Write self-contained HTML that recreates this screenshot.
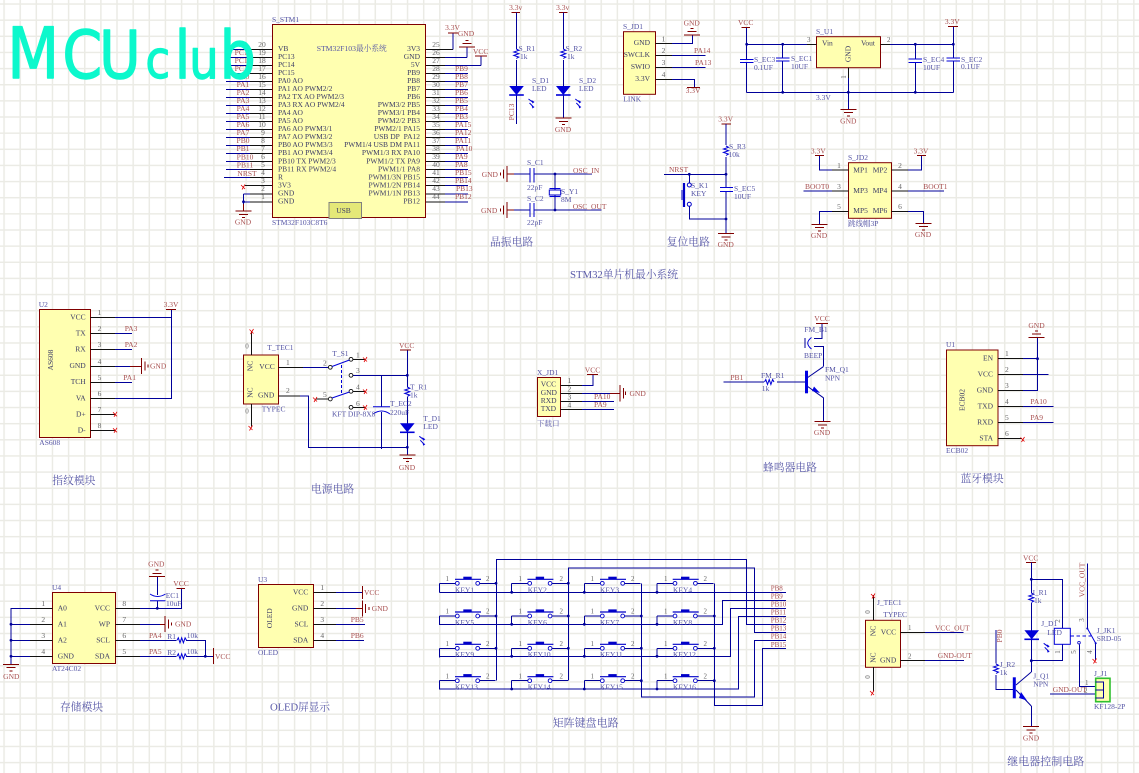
<!DOCTYPE html>
<html><head><meta charset="utf-8"><style>
html,body{margin:0;padding:0;background:#fff}
svg{display:block}
text{font-family:"Liberation Serif","Noto Serif CJK SC",serif;font-size:7.5px}
.w{stroke:#00009a;stroke-width:1;fill:none;shape-rendering:crispEdges}
.p{stroke:#111;stroke-width:1;fill:none;shape-rendering:crispEdges}
.r{stroke:#800000;stroke-width:1;fill:none;shape-rendering:crispEdges}
.b{stroke:#0000d8;stroke-width:1;fill:none;shape-rendering:crispEdges}
.z{stroke:#0000d8;stroke-width:1;fill:none}
.x{stroke:#e00000;stroke-width:.8;fill:none}
.box{fill:#ffffb0;stroke:#800000;stroke-width:1}
.d{fill:#5555a5}
.n{fill:#a85050}
.m{fill:#666;font-size:7px}
.o{fill:#3c3c66}
.t{fill:#5a5aa8;font-size:10.8px}
.c{text-anchor:middle}
.e{text-anchor:end}
</style></head><body>
<svg xmlns="http://www.w3.org/2000/svg" width="1139" height="773" viewBox="0 0 1139 773">
<defs>
<pattern id="grid" patternUnits="userSpaceOnUse" width="16.14" height="16.14" x="3.3" y="3.3">
<path d="M0 0H16.14M0 0V16.14" stroke="#ebebe5" stroke-width="3" fill="none"/>
</pattern>
<g id="gd"><path class="r" d="M-8 0H8M-4.5 3.3H4.5M-1.5 6.5H1.5"/></g>
<g id="gu"><path class="r" d="M-8 0H8M-4.5 -3.3H4.5M-1.5 -6.5H1.5"/></g>
<g id="gl"><path class="r" d="M0 -8V8M3.3 -4.5V4.5M6.5 -1.5V1.5" /></g>
<g id="gb"><path class="r" d="M0 -8V8M-3.3 -4.5V4.5M-6.5 -1.5V1.5" /></g>
<g id="rv"><path class="z" d="M0 0l2.5 1.3l-5 1.7l5 1.7l-5 1.7l5 1.7l-2.5 1.4"/></g>
<g id="rh"><path class="z" d="M0 0l1.3 -2.5l1.7 5l1.7 -5l1.7 5l1.7 -5l1.4 2.5"/></g>
<g id="xx"><path class="x" d="M-2 -2L2 2M-1 2.5L2 -2.5"/></g>
<g id="dt"><circle r="1.4" fill="#00009a"/></g>
<g id="led"><path d="M-7.3 0H7.3L0 9Z" fill="#0000d8"/><path d="M-7.3 9H7.3" stroke="#0000d8" stroke-width="1.6"/><path class="z" d="M12 13l4 3M13 17l3 3"/><path d="M15 14l3 2l-2 1.5ZM15 19l3 2l-2 1.5Z" fill="#0000d8"/></g>
<g id="k"><path class="w" d="M0 0V9M0 0H16.2M40.2 0H56.4"/><circle cx="18" cy="0" r="1.9" fill="#fff" stroke="#0000c8" stroke-width=".9"/><circle cx="38.4" cy="0" r="1.9" fill="#fff" stroke="#0000c8" stroke-width=".9"/><path d="M15.7 -4H41.7" stroke="#0000c8" stroke-width="1.2"/><rect x="24" y="-6.6" width="8.4" height="2.6" fill="#0000c8"/></g>
</defs>
<rect width="1139" height="773" fill="#fff"/>
<rect width="1139" height="773" fill="url(#grid)"/>

<!-- STM32 -->
<rect class="box" x="272.5" y="24.5" width="153" height="193"/>
<path class="w" d="M226 49.4H250M226 57.4H250M226 65.4H250M226 73.5H250M226 81.5H250M226 89.5H250M226 97.5H250M226 105.5H250M226 113.6H250M226 121.6H250M226 129.6H250M226 137.6H250M226 145.6H250M226 153.7H250M226 161.7H250M226 169.7H250M224 177.7H250"/>
<path class="p" d="M250 49.4H272M250 57.4H272M250 65.4H272M250 73.5H272M250 81.5H272M250 89.5H272M250 97.5H272M250 105.5H272M250 113.6H272M250 121.6H272M250 129.6H272M250 137.6H272M250 145.6H272M250 153.7H272M250 161.7H272M250 169.7H272M250 177.7H272M245 185.7H272M250 193.8H272M250 201.8H272"/>
<path class="w" d="M243.5 193.8H250M243.5 201.8H250M243.5 193.8V204"/><path class="r" d="M243.5 204V211"/>
<use href="#dt" x="243.5" y="201.8"/><use href="#gd" x="243.5" y="211"/><use href="#xx" x="243" y="187"/>
<path class="p" d="M426 49.4H453M426 57.4H445M426 65.4H445M426 73.5H445M426 81.5H445M426 89.5H445M426 97.5H445M426 105.5H445M426 113.6H445M426 121.6H445M426 129.6H445M426 137.6H445M426 145.6H445M426 153.7H445M426 161.7H445M426 169.7H445M426 177.7H445M426 185.7H445M426 193.8H445M426 201.8H445"/>
<path class="w" d="M445 57.4H467M445 65.4H481M445 73.5H468M445 81.5H468M445 89.5H468M445 97.5H468M445 105.5H468M445 113.6H468M445 121.6H468M445 129.6H468M445 137.6H468M445 145.6H468M445 153.7H468M445 161.7H468M445 169.7H468M445 177.7H468M445 185.7H468M445 193.8H468M445 201.8H468M453 33V49.4M467 47V57.4M481 56V65.4"/>
<path class="r" d="M448 33H458M475 56H487"/><use href="#gu" x="467" y="47"/>
<text class="n c" x="452.5" y="30">3.3V</text><text class="n c" x="466" y="36">GND</text><text class="n" x="473" y="54">VCC</text>
<rect x="329" y="202.5" width="32.5" height="16" fill="#e4e878" stroke="#808080"/>
<text class="o c" x="343.5" y="213">USB</text>
<text class="d" x="272" y="22">S_STM1</text><text class="d" x="272" y="225">STM32F103C8T6</text>
<text class="d" x="316.7" y="51" style="font-size:7.7px">STM32F103最小系统</text>
<g class="o">
<text x="278" y="51">VB</text><text x="278" y="59">PC13</text><text x="278" y="67">PC14</text><text x="278" y="75">PC15</text><text x="278" y="83">PA0 AO</text><text x="278" y="91">PA1 AO PWM2/2</text><text x="278" y="99">PA2 TX AO PWM2/3</text><text x="278" y="107">PA3 RX AO PWM2/4</text><text x="278" y="115">PA4 AO</text><text x="278" y="123">PA5 AO</text><text x="278" y="131">PA6 AO PWM3/1</text><text x="278" y="139">PA7 AO PWM3/2</text><text x="278" y="147">PB0 AO PWM3/3</text><text x="278" y="155">PB1 AO PWM3/4</text><text x="278" y="163.5">PB10 TX PWM2/3</text><text x="278" y="171.5">PB11 RX PWM2/4</text><text x="278" y="179.5">R</text><text x="278" y="187.5">3V3</text><text x="278" y="195.5">GND</text><text x="278" y="203.5">GND</text>
</g>
<g class="o e">
<text x="420" y="51">3V3</text><text x="420" y="59">GND</text><text x="420" y="67">5V</text><text x="420" y="75">PB9</text><text x="420" y="83">PB8</text><text x="420" y="91">PB7</text><text x="420" y="99">PB6</text><text x="420" y="107">PWM3/2 PB5</text><text x="420" y="115">PWM3/1 PB4</text><text x="420" y="123">PWM2/2 PB3</text><text x="420" y="131">PWM2/1 PA15</text><text x="420" y="139">USB DP&#160; PA12</text><text x="420" y="147">PWM1/4 USB DM PA11</text><text x="420" y="155">PWM1/3 RX PA10</text><text x="420" y="163.5">PWM1/2 TX PA9</text><text x="420" y="171.5">PWM1/1 PA8</text><text x="420" y="179.5">PWM1/3N PB15</text><text x="420" y="187.5">PWM1/2N PB14</text><text x="420" y="195.5">PWM1/1N PB13</text><text x="420" y="203.5">PB12</text>
</g>
<g class="m c">
<text x="262" y="47">20</text><text x="262" y="55">19</text><text x="262" y="63">18</text><text x="262" y="71">17</text><text x="262" y="79">16</text><text x="262" y="87">15</text><text x="262" y="95">14</text><text x="262" y="103">13</text><text x="262" y="111">12</text><text x="262" y="119">11</text><text x="262" y="127">10</text><text x="263" y="135">9</text><text x="263" y="143">8</text><text x="263" y="151">7</text><text x="263" y="159">6</text><text x="263" y="167">5</text><text x="263" y="175">4</text><text x="263" y="183">3</text><text x="263" y="191">2</text><text x="263" y="199">1</text>
<text x="436" y="47">25</text><text x="436" y="55">26</text><text x="436" y="63">27</text><text x="436" y="71">28</text><text x="436" y="79">29</text><text x="436" y="87">30</text><text x="436" y="95">31</text><text x="436" y="103">32</text><text x="436" y="111">33</text><text x="436" y="119">34</text><text x="436" y="127">35</text><text x="436" y="135">36</text><text x="436" y="143">37</text><text x="436" y="151">38</text><text x="436" y="159">39</text><text x="436" y="167">40</text><text x="436" y="175">41</text><text x="436" y="183">42</text><text x="436" y="191">43</text><text x="436" y="199">44</text>
</g>
<g class="n c">
<text x="242" y="47">VB</text><text x="243" y="55">PC13</text><text x="243" y="63">PC14</text><text x="243" y="71">PC15</text><text x="243" y="79">PA0</text><text x="243" y="87">PA1</text><text x="243" y="95">PA2</text><text x="243" y="103">PA3</text><text x="243" y="111">PA4</text><text x="243" y="119">PA5</text><text x="243" y="127">PA6</text><text x="243" y="135">PA7</text><text x="243" y="143">PB0</text><text x="243" y="151">PB1</text><text x="245" y="159.5">PB10</text><text x="245" y="167.5">PB11</text><text x="247" y="176">NRST</text><text x="243" y="224.5">GND</text>
</g>
<g class="n">
<text x="455" y="71">PB9</text><text x="455" y="79">PB8</text><text x="455" y="87">PB7</text><text x="455" y="95">PB6</text><text x="455" y="103">PB5</text><text x="455" y="111">PB4</text><text x="455" y="119">PB3</text><text x="455" y="127">PA15</text><text x="455" y="135">PA12</text><text x="455" y="143">PA11</text><text x="456" y="151">PA10</text><text x="455" y="159">PA9</text><text x="455" y="167">PA8</text><text x="455" y="175">PB15</text><text x="455" y="183">PB14</text><text x="456" y="191">PB13</text><text x="455" y="199">PB12</text>
</g>

<!-- LEDs -->
<path class="r" d="M511.7 12.7H520M559 12.7H567.5"/>
<path class="w" d="M516.3 12.7V49M516.3 60V86M516.3 95V124M563.3 12.7V49M563.3 60V86M563.3 95V118"/>
<use href="#rv" x="516.3" y="49"/><use href="#rv" x="563.3" y="49"/>
<use href="#led" x="516.5" y="86"/><use href="#led" x="563.3" y="86"/><use href="#gd" x="563.3" y="118"/>
<text class="n c" x="515.7" y="10">3.3v</text><text class="n c" x="562.7" y="10">3.3v</text><text class="n c" x="563" y="132">GND</text>
<text class="n c" transform="translate(514 112) rotate(-90)">PC13</text>
<text class="d" x="518.5" y="51">S_R1</text><text class="d" x="520" y="59">1k</text><text class="d" x="532" y="83">S_D1</text><text class="d" x="532" y="91">LED</text>
<text class="d" x="565.5" y="51">S_R2</text><text class="d" x="567" y="59">1k</text><text class="d" x="579" y="83">S_D2</text><text class="d" x="579" y="91">LED</text>

<!-- S_JD1 -->
<rect class="box" x="623.5" y="31.7" width="32" height="62.6"/>
<path class="p" d="M655.5 43.3H672M655.5 55.3H672M655.5 67.3H672M655.5 79.3H672"/>
<path class="w" d="M672 43.3H692.7V35M672 55.3H705.7M672 67.3H705.7M672 79.3H694.3V87.7"/>
<use href="#gu" x="692" y="35"/><path class="r" d="M687 87.7H700"/>
<g class="o e"><text x="650" y="45">GND</text><text x="650" y="57">SWCLK</text><text x="650" y="69">SWIO</text><text x="650" y="81">3.3V</text></g>
<g class="m c"><text x="663.5" y="41.5">1</text><text x="663.5" y="53">2</text><text x="663.5" y="65">3</text><text x="663.5" y="77">4</text></g>
<text class="n c" x="691.7" y="25.5">GND</text><text class="n" x="694" y="53">PA14</text><text class="n" x="695" y="65">PA13</text><text class="n c" x="693" y="93">3.3V</text>
<text class="d" x="623" y="29">S_JD1</text><text class="d" x="623.3" y="101.5">LINK</text>

<!-- S_U1 -->
<rect class="box" x="816.5" y="36.7" width="64" height="31"/>
<path class="w" d="M746.7 44.3H807M746.7 92.3H953.3M746.7 27.3V59.3M746.7 62.7V92.3M782.7 44.3V58M782.7 61V92.3M915.3 44.3V59M915.3 62.5V92.3M953.3 26.7V58M953.3 61V92.3M890 44.3H953.3M848.3 78V109.3"/>
<path class="p" d="M807 44.3H816.5M880.5 44.3H890M848.3 67.7V78"/>
<path class="b" d="M740 59.3H753.5M740 62.7H753.5M776 58H789.5M776 61H789.5M908.7 59H922M908.7 62.5H922M946.5 58H960M946.5 61H960"/>
<path class="r" d="M741.7 27.3H750M948 26.7H958"/>
<use href="#dt" x="746.7" y="44.3"/><use href="#dt" x="782.7" y="44.3"/><use href="#dt" x="915.3" y="44.3"/><use href="#dt" x="953.3" y="44.3"/><use href="#dt" x="782.7" y="92.3"/><use href="#dt" x="848.3" y="92.3"/><use href="#dt" x="915.3" y="92.3"/>
<use href="#gd" x="848.3" y="109.3"/>
<text class="o" x="822" y="45.5">Vin</text><text class="o e" x="875" y="45.5">Vout</text>
<text class="o c" transform="translate(850.5 54) rotate(-90)">GND</text>
<text class="m" x="807" y="42">3</text><text class="m" x="887" y="42">2</text><text class="m c" transform="translate(846 77) rotate(-90)">1</text>
<text class="n c" x="745.7" y="25">VCC</text><text class="n c" x="952.3" y="24">3.3V</text><text class="n c" x="848.3" y="123.5">GND</text>
<text class="d" x="816" y="34">S_U1</text><text class="d" x="816" y="100">3.3V</text>
<text class="d" x="754" y="62">S_EC3</text><text class="d" x="754" y="70">0.1UF</text><text class="d" x="791" y="61">S_EC1</text><text class="d" x="791" y="69">10UF</text><text class="d" x="923" y="62">S_EC4</text><text class="d" x="923" y="70">10UF</text><text class="d" x="961" y="62">S_EC2</text><text class="d" x="961" y="69">0.1UF</text>

<!-- Crystal -->
<path class="r" d="M507 174H514M507 210H514"/><use href="#gb" x="507" y="174"/><use href="#gb" x="507" y="210"/>
<path class="w" d="M514 174H530M534 174H592M514 210H530M534 210H601.7M555 174V190M555 195V210"/>
<path class="p" d="M530 168V182.7M534 168V182.7M530 203V217M534 203V217" style="stroke:#0000c8"/>
<rect x="549.3" y="190" width="11.4" height="5" fill="#fff" stroke="#0000c8" stroke-width="1"/><path class="b" d="M549.3 188.3H560.7M549.3 196.7H560.7"/>
<use href="#dt" x="555" y="174"/><use href="#dt" x="555" y="210"/>
<text class="n" x="481.7" y="177">GND</text><text class="n" x="481" y="213">GND</text><text class="n" x="573" y="173">OSC_IN</text><text class="n" x="572.7" y="209">OSC_OUT</text>
<text class="d" x="527" y="165">S_C1</text><text class="d" x="527" y="190">22pF</text><text class="d" x="527" y="201">S_C2</text><text class="d" x="527" y="225">22pF</text><text class="d" x="561" y="194">S_Y1</text><text class="d" x="561" y="202">8M</text>
<text class="t" x="490" y="245.5">晶振电路</text><text class="t" x="666.7" y="245.5">复位电路</text>
<text class="t" x="570" y="278" textLength="108">STM32单片机最小系统</text>

<!-- Reset -->
<path class="r" d="M721.7 124H731"/>
<path class="w" d="M726 124V145M726 157V187.7M726 191.7V233.7M664 174.3H726M689.3 174.3V183M689.3 206.5V219H726"/>
<use href="#rv" x="726" y="146"/>
<circle cx="689.3" cy="185" r="2" fill="#fff" stroke="#0000c8"/><circle cx="689.3" cy="204.3" r="2" fill="#fff" stroke="#0000c8"/>
<path d="M684 183V207" stroke="#0000c8" stroke-width="2.2"/><path d="M682 190V200" stroke="#0000c8" stroke-width="1"/>
<path class="b" d="M720 187.7H733M720 191.7H733"/>
<use href="#dt" x="726" y="174.3"/><use href="#dt" x="689.3" y="174.3"/><use href="#dt" x="726" y="219"/>
<use href="#gd" x="726" y="233.7"/>
<text class="n c" x="725.7" y="121.5">3.3V</text><text class="n" x="669" y="172">NRST</text><text class="n c" x="725.7" y="247">GND</text>
<text class="d" x="729" y="149">S_R3</text><text class="d" x="728.5" y="157">10k</text><text class="d" x="691" y="188">S_K1</text><text class="d" x="691" y="196">KEY</text><text class="d" x="734" y="191">S_EC5</text><text class="d" x="734" y="199">10UF</text>

<!-- S_JD2 -->
<rect class="box" x="848.5" y="162.7" width="43" height="55.6"/>
<path class="p" d="M832 170H848.5M832 191H848.5M832 211.3H848.5M891.5 170H908M891.5 191H908M891.5 211.3H908"/>
<path class="w" d="M832 170H819.3V155.7M908 170H921.7V155.7M832 191H803.3M908 191H944M832 211.3H819.3V224.3M908 211.3H923.3V223.3"/>
<path class="r" d="M815 155.7H824M917 155.7H926"/><use href="#gd" x="819.3" y="224.3"/><use href="#gd" x="923.3" y="223.3"/>
<g class="o"><text x="853.3" y="172.5">MP1</text><text x="872.7" y="172.5">MP2</text><text x="853.3" y="193">MP3</text><text x="872.7" y="193">MP4</text><text x="853.3" y="213">MP5</text><text x="872.7" y="213">MP6</text></g>
<g class="m c"><text x="839" y="168">1</text><text x="839" y="189">3</text><text x="839" y="209">5</text><text x="900" y="168">2</text><text x="900" y="189">4</text><text x="900" y="209">6</text></g>
<text class="n c" x="818.3" y="153.5">3.3V</text><text class="n c" x="921" y="153.5">3.3V</text><text class="n" x="805" y="189">BOOT0</text><text class="n" x="923.3" y="189">BOOT1</text><text class="n c" x="819" y="238">GND</text><text class="n c" x="923" y="237">GND</text>
<text class="d" x="848" y="160">S_JD2</text><text class="d" x="848" y="226">跳线帽3P</text>

<!-- U2 -->
<rect class="box" x="39.5" y="309.5" width="51" height="128"/>
<path class="p" d="M90.5 317.3H115M90.5 333.3H115M90.5 349.3H115M90.5 366.3H115M90.5 382.3H115M90.5 398.3H115M90.5 414.3H115M90.5 430.3H115"/>
<path class="w" d="M115 317.3H171.7M115 333.3H132M115 349.3H132M115 366.3H130M115 382.3H132M115 398.3H171.7V309.3"/>
<path class="r" d="M130 366.3H141.7M166 309.3H176"/><use href="#gl" x="141.7" y="366"/><use href="#xx" x="115" y="414.3"/><use href="#xx" x="115" y="430.3"/>
<g class="o e"><text x="85.7" y="319.5">VCC</text><text x="85.7" y="335.5">TX</text><text x="85.7" y="351.5">RX</text><text x="85.7" y="368">GND</text><text x="85.7" y="384">TCH</text><text x="85.7" y="400.5">VA</text><text x="85.7" y="416.5">D+</text><text x="85.7" y="432.5">D-</text></g>
<g class="m c"><text x="99.5" y="315">1</text><text x="99.5" y="331">2</text><text x="99.5" y="347">3</text><text x="99.5" y="364">4</text><text x="99.5" y="380">5</text><text x="99.5" y="396">6</text><text x="99.5" y="412">7</text><text x="99.5" y="428">8</text></g>
<text class="o c" transform="translate(53 360) rotate(-90)">AS608</text>
<text class="n c" x="171" y="307">3.3V</text><text class="n" x="124.7" y="331">PA3</text><text class="n" x="124.7" y="347">PA2</text><text class="n" x="123.3" y="380">PA1</text><text class="n" x="150" y="368.5">GND</text>
<text class="d" x="38.7" y="307">U2</text><text class="d" x="39.3" y="445">AS608</text>
<text class="t" x="52.3" y="484">指纹模块</text>

<!-- Power -->
<rect class="box" x="243.5" y="355" width="35" height="49"/>
<path class="p" d="M251.7 355V331.7M251.7 404V426.7M278.5 367.3H303M278.5 396H300"/>
<path class="w" d="M303 367.3H328.5M300 396H308.3V447.3H407.3M353 375.3H407.3M407.3 350V387M407.3 397V423.3M407.3 431.7V455M381.7 375.3V406.7M381.7 412V449"/>
<path class="r" d="M400 350H411"/>
<use href="#rv" x="407.3" y="387"/><use href="#led" x="407.3" y="423.3"/><use href="#gd" x="407.3" y="455"/>
<use href="#dt" x="407.3" y="375.3"/><use href="#dt" x="407.3" y="447.3"/>
<path class="z" d="M373 406.7H390M373 414Q381.7 408 390 414"/>
<g fill="#fff" stroke="#111" stroke-width=".9"><circle cx="330.3" cy="367.3" r="1.9"/><circle cx="351" cy="359.3" r="1.9"/><circle cx="351" cy="375.3" r="1.9"/><circle cx="351" cy="391.3" r="1.9"/><circle cx="330.3" cy="399" r="1.9"/><circle cx="351" cy="407.3" r="1.9"/></g>
<path class="z" d="M332 366.5L349.5 360M332 398L349.5 392"/><path class="b" stroke-dasharray="3 2" d="M341.3 365V394"/>
<path class="p" d="M353 359.3H365M353 391.3H365M353 407.3H365M328.5 399H316"/>
<use href="#xx" x="365" y="359.5"/><use href="#xx" x="365" y="391.5"/><use href="#xx" x="365" y="407.5"/><use href="#xx" x="315" y="399.5"/><use href="#xx" x="251.5" y="331.5"/><use href="#xx" x="250.5" y="428"/>
<g class="o"><text x="259.3" y="369">VCC</text><text x="258" y="397.5">GND</text></g>
<text class="o c" transform="translate(252.5 366) rotate(-90)">NC</text><text class="o c" transform="translate(252.5 392.7) rotate(-90)">NC</text>
<text class="m c" x="247" y="348.5">0</text><text class="m c" x="247" y="413.5">0</text>
<g class="m"><text x="286" y="365">1</text><text x="286" y="393">2</text><text x="323" y="365.5">2</text><text x="356" y="357.5">1</text><text x="356" y="373">3</text><text x="356" y="389.5">4</text><text x="356" y="406">6</text><text x="323" y="397">5</text></g>
<text class="d" x="267.3" y="350">T_TEC1</text><text class="d" x="261.7" y="411.5">TYPEC</text><text class="d" x="332.3" y="356">T_S1</text><text class="d" x="332" y="416.5">KFT DIP-8X8</text>
<text class="n c" x="406.7" y="348">VCC</text><text class="n c" x="407" y="470">GND</text>
<text class="d" x="410" y="389.5">T_R1</text><text class="d" x="410" y="397.5">1k</text><text class="d" x="423.3" y="421">T_D1</text><text class="d" x="423.3" y="429">LED</text><text class="d" x="390" y="406">T_EC2</text><text class="d" x="390" y="415">220uF</text>
<text class="t" x="311" y="492.5">电源电路</text>

<!-- X_JD1 -->
<rect class="box" x="537.5" y="377.5" width="23" height="39"/>
<path class="p" d="M560.5 385.3H582M560.5 393.3H582M560.5 401.3H582M560.5 409.3H582"/>
<path class="w" d="M582 385.3H593V374.7M582 393.3H610M582 401.3H613.8M582 409.3H613.8"/>
<path class="r" d="M610 393.3H620M587 374.7H598"/><path class="r" d="M620 385V401.7M623.3 388V398.7M625.7 391.5V395"/>
<g class="o"><text x="540.7" y="386.5">VCC</text><text x="540.7" y="395">GND</text><text x="540.7" y="403">RXD</text><text x="540.7" y="411">TXD</text></g>
<g class="m"><text x="567.5" y="383">1</text><text x="567.5" y="391.5">2</text><text x="567.5" y="399.5">3</text><text x="567.5" y="407.5">4</text></g>
<text class="n c" x="592.5" y="372.5">VCC</text><text class="n" x="629.5" y="396">GND</text><text class="n" x="594" y="399">PA10</text><text class="n" x="594" y="407">PA9</text>
<text class="d" x="537" y="375">X_JD1</text><text class="d" x="537" y="426" style="font-size:7.5px">下载口</text>

<!-- Beeper -->
<path class="w" d="M723.3 382H764M777 382H806M822 323.3V338.3H814M814 346.7H823.3V366.7M805 338V348"/>
<path class="z" style="stroke:#00009a" d="M823.3 366.7L807 378M807 386L823.3 397.7"/><path class="w" d="M823.3 397.7V421.7"/>
<path class="r" d="M816 323.3H828"/>
<use href="#rh" x="764.5" y="382"/>
<path d="M806.5 370.7V393.3" stroke="#0000e0" stroke-width="3"/>
<path d="M814 386.5L820 393L812 391Z" fill="#0000e0"/>
<path class="z" d="M811.5 337.5Q804 343 811.5 349"/>
<use href="#gd" x="822.5" y="421.7"/>
<text class="n c" x="822" y="321">VCC</text><text class="n c" x="822" y="435">GND</text><text class="n" x="730.4" y="380">PB1</text>
<text class="d" x="804.3" y="332">FM_B1</text><text class="d" x="804" y="358">BEEP</text><text class="d" x="761" y="378">FM_R1</text><text class="d" x="761.7" y="391">1k</text><text class="d" x="825" y="372">FM_Q1</text><text class="d" x="825" y="380.5">NPN</text>
<text class="t" x="763" y="471">蜂鸣器电路</text>

<!-- U1 ECB02 -->
<rect class="box" x="946.5" y="350" width="51.5" height="95.7"/>
<path class="p" d="M998 358.7H1023M998 374.7H1023M998 390.7H1023M998 406.7H1023M998 422.7H1023M998 438.7H1022"/>
<path class="w" d="M1023 358.7H1037.5V337.3M1023 374.7H1048.6M1023 390.7H1037.5V358M1023 406.7H1053.4M1023 422.7H1053.4"/>
<use href="#gu" x="1036.5" y="337.3"/><use href="#dt" x="1037.5" y="358.7"/><use href="#xx" x="1022.5" y="439.5"/>
<g class="o e"><text x="993" y="360.5">EN</text><text x="993" y="376.5">VCC</text><text x="993" y="392.5">GND</text><text x="993" y="408.5">TXD</text><text x="993" y="424.5">RXD</text><text x="993" y="440.5">STA</text></g>
<g class="m"><text x="1005" y="356">1</text><text x="1005" y="372">2</text><text x="1005" y="388">3</text><text x="1005" y="404">4</text><text x="1005" y="420">5</text><text x="1005" y="436">6</text></g>
<text class="o c" transform="translate(964.5 400) rotate(-90)">ECB02</text>
<text class="n c" x="1036.5" y="328">GND</text><text class="n" x="1030.4" y="404">PA10</text><text class="n" x="1030.4" y="420">PA9</text>
<text class="d" x="946" y="347">U1</text><text class="d" x="946" y="453">ECB02</text>
<text class="t" x="960.5" y="482">蓝牙模块</text>

<!-- U4 -->
<rect class="box" x="52.5" y="592.5" width="63" height="71"/>
<path class="p" d="M30 608.3H52.5M30 624.3H52.5M30 640.3H52.5M30 656.3H52.5M115.5 608.3H140M115.5 624.3H140M115.5 640.3H140M115.5 656.3H140"/>
<path class="w" d="M30 608.3H11V664.3M30 624.3H11M30 640.3H11M30 656.3H11M140 608.3H181.7V588.3M157.3 608.3V600.7M157.3 595V576.7M140 624.3H160M140 640.3H176.7M186 640.3H205.3V656.3M140 656.3H176.7M186 656.3H213.3"/>
<path class="r" d="M160 624.3H165M176.7 588.3H185"/><use href="#gd" x="11" y="664.3"/><use href="#gu" x="157" y="576.7"/><use href="#gl" x="165" y="624"/>
<path class="r" d="M213.3 648V664"/>
<use href="#rh" x="177" y="640.3"/><use href="#rh" x="177" y="656.3"/>
<use href="#dt" x="11" y="624.3"/><use href="#dt" x="11" y="640.3"/><use href="#dt" x="11" y="656.3"/><use href="#dt" x="157.3" y="608.3"/><use href="#dt" x="205.3" y="656.3"/>
<path class="z" d="M150 600.7H165.5M150 594Q157.5 599 165.5 594"/>
<g class="o"><text x="57.7" y="610.5">A0</text><text x="57.7" y="626.5">A1</text><text x="57.7" y="642.5">A2</text><text x="57.7" y="658.5">GND</text></g>
<g class="o e"><text x="110" y="610.5">VCC</text><text x="110" y="626.5">WP</text><text x="110" y="642.5">SCL</text><text x="110" y="658.5">SDA</text></g>
<g class="m c"><text x="43.3" y="606">1</text><text x="43.3" y="622">2</text><text x="43.3" y="638">3</text><text x="43.3" y="654">4</text><text x="124.3" y="606">8</text><text x="124.3" y="622">7</text><text x="124.3" y="638">6</text><text x="124.3" y="654">5</text></g>
<text class="n c" x="156.3" y="566.5">GND</text><text class="n c" x="181" y="586">VCC</text><text class="n c" x="11.3" y="679">GND</text><text class="n" x="175" y="626.5">GND</text><text class="n" x="149" y="638">PA4</text><text class="n" x="149" y="654">PA5</text><text class="n" x="215" y="659">VCC</text>
<text class="d" x="52" y="590">U4</text><text class="d" x="52" y="671">AT24C02</text><text class="d" x="165.7" y="598">EC1</text><text class="d" x="166" y="606">10uF</text><text class="d" x="167.3" y="639">R1</text><text class="d" x="167.3" y="655">R2</text><text class="d" x="186.7" y="638">10k</text><text class="d" x="186.7" y="654">10k</text>
<text class="t" x="60" y="710.5">存储模块</text>

<!-- U3 -->
<rect class="box" x="258.5" y="584.5" width="55" height="63"/>
<path class="p" d="M313.5 592.3H336M313.5 608.3H336M313.5 624.3H336M313.5 640.3H336"/>
<path class="w" d="M336 592.3H362.3M336 608.3H356M336 624.3H365M336 640.3H364"/>
<path class="r" d="M356 608.3H362.3M362.3 586V599"/><use href="#gl" x="362.3" y="608.3"/>
<g class="o e"><text x="308.3" y="594.5">VCC</text><text x="308.3" y="610.5">GND</text><text x="308.3" y="626.5">SCL</text><text x="308.3" y="642.5">SDA</text></g>
<g class="m c"><text x="322.3" y="590">1</text><text x="322.3" y="606">2</text><text x="322.3" y="622">3</text><text x="322.3" y="638">4</text></g>
<text class="o c" transform="translate(272 618.3) rotate(-90)">OLED</text>
<text class="n" x="364" y="595">VCC</text><text class="n" x="371.7" y="611">GND</text><text class="n" x="350.7" y="622">PB5</text><text class="n" x="350.7" y="638">PB6</text>
<text class="d" x="258" y="582">U3</text><text class="d" x="258" y="655">OLED</text>
<text class="t" x="270" y="710.5" textLength="60">OLED屏显示</text>

<!-- Key matrix -->
<use href="#k" x="439.3" y="583.3"/><use href="#k" x="511.7" y="583.3"/><use href="#k" x="584.3" y="583.3"/><use href="#k" x="657" y="583.3"/>
<use href="#k" x="439.3" y="616"/><use href="#k" x="511.7" y="616"/><use href="#k" x="584.3" y="616"/><use href="#k" x="657" y="616"/>
<use href="#k" x="439.3" y="648.3"/><use href="#k" x="511.7" y="648.3"/><use href="#k" x="584.3" y="648.3"/><use href="#k" x="657" y="648.3"/>
<use href="#k" x="439.3" y="680.7"/><use href="#k" x="511.7" y="680.7"/><use href="#k" x="584.3" y="680.7"/><use href="#k" x="657" y="680.7"/>
<path class="w" d="M439.3 592.3H786M439.3 624.3H722.3V600.7H786M439.3 656.3H730.3V608.3H786M439.3 689H738.3V616.3H786M496.7 680.7V559.3H746.3V624.3H786M568.3 680.7V568H754.3V632.3H786M641.3 583.3V697H754.3V640.3H786M714.3 583.3V705.3H762.3V648.3H786"/>
<g><use href="#dt" x="496" y="583.3"/><use href="#dt" x="496" y="616"/><use href="#dt" x="496" y="648.3"/><use href="#dt" x="568.3" y="583.3"/><use href="#dt" x="568.3" y="616"/><use href="#dt" x="568.3" y="648.3"/><use href="#dt" x="641.3" y="616"/><use href="#dt" x="641.3" y="648.3"/><use href="#dt" x="641.3" y="680.7"/><use href="#dt" x="714.3" y="616"/><use href="#dt" x="714.3" y="648.3"/><use href="#dt" x="714.3" y="680.7"/><use href="#dt" x="511.7" y="592.3"/><use href="#dt" x="584.3" y="592.3"/><use href="#dt" x="657" y="592.3"/><use href="#dt" x="511.7" y="624.3"/><use href="#dt" x="584.3" y="624.3"/><use href="#dt" x="657" y="624.3"/><use href="#dt" x="511.7" y="656.3"/><use href="#dt" x="584.3" y="656.3"/><use href="#dt" x="657" y="656.3"/><use href="#dt" x="511.7" y="689"/><use href="#dt" x="584.3" y="689"/><use href="#dt" x="657" y="689"/></g>
<text class="m" x="445.5 486 518.5 559.5 590.5 631 664 703.5" y="581">12121212</text>
<text class="m" x="445.5 486 518.5 559.5 590.5 631 664 703.5" y="613.5">12121212</text>
<text class="m" x="445.5 486 518.5 559.5 590.5 631 664 703.5" y="646">12121212</text>
<text class="m" x="445.5 486 518.5 559.5 590.5 631 664 703.5" y="678.5">12121212</text>
<g class="d"><text x="455" y="592.5">KEY1</text><text x="527.7" y="592.5">KEY2</text><text x="600" y="592.5">KEY3</text><text x="673" y="592.5">KEY4</text><text x="455" y="625">KEY5</text><text x="527.7" y="625">KEY6</text><text x="600" y="625">KEY7</text><text x="673" y="625">KEY8</text><text x="455" y="657">KEY9</text><text x="527.7" y="657">KEY10</text><text x="600" y="657">KEY11</text><text x="673" y="657">KEY12</text><text x="455" y="689.5">KEY13</text><text x="527.7" y="689.5">KEY14</text><text x="600" y="689.5">KEY15</text><text x="673" y="689.5">KEY16</text></g>
<g class="n" style="font-size:7px"><text style="font-size:7px" x="770.7" y="590.7">PB8</text><text style="font-size:7px" x="770.7" y="598.7">PB9</text><text style="font-size:7px" x="770.7" y="606.7">PB10</text><text style="font-size:7px" x="770.7" y="614.7">PB11</text><text style="font-size:7px" x="770.7" y="622.7">PB12</text><text style="font-size:7px" x="770.7" y="630.7">PB13</text><text style="font-size:7px" x="770.7" y="638.7">PB14</text><text style="font-size:7px" x="770.7" y="647">PB15</text></g>
<text class="t" x="552.7" y="726.5" style="font-size:11px">矩阵键盘电路</text>

<!-- J_TEC1 -->
<rect class="box" x="865.5" y="620.3" width="35" height="47"/>
<path class="p" d="M873.3 620V595M873.3 667V691.7M900.5 632.3H925M900.5 660.7H925"/>
<path class="w" d="M925 632.3H963.3M925 660.7H964"/>
<use href="#xx" x="873" y="596"/><use href="#xx" x="872" y="693"/>
<g class="o"><text x="880.7" y="634.5">VCC</text><text x="880" y="662.7">GND</text></g>
<text class="o c" transform="translate(875.5 631) rotate(-90)">NC</text><text class="o c" transform="translate(875.5 657.7) rotate(-90)">NC</text>
<text class="m c" transform="translate(870 612) rotate(-90)">0</text><text class="m c" transform="translate(870 677) rotate(-90)">0</text>
<text class="m" x="908" y="630">1</text><text class="m" x="908" y="658.5">2</text>
<text class="n" x="935" y="630.5">VCC_OUT</text><text class="n" x="937.7" y="658">GND-OUT</text>
<text class="d" x="877" y="605">J_TEC1</text><text class="d" x="883.3" y="617">TYPEC</text>

<!-- Relay -->
<path class="r" d="M1026 562.3H1036"/>
<path class="w" d="M1031.3 562.3V593M1031.3 603V630.3M1031.3 639.3V672M1031.3 579.3H1062.3V628.3M1062.3 644.3V660.7H1031.3M1031.3 706V726.7M1014 689.3H996V675M996 663.3V630M1087.3 563.3V628.3M1095.7 643.3V660M1079.7 644.5V686.3H1095.7M1050 694H1103.3"/>
<path class="z" style="stroke:#00009a" d="M1031.3 672L1016 685M1016 690L1031.3 706"/>
<use href="#rv" x="1031.3" y="593"/><use href="#rv" x="996" y="664"/><use href="#led" x="1031.7" y="630.3"/>
<rect x="1054.3" y="628.3" width="16" height="16" fill="#fff" stroke="#0000d8" stroke-width="1"/>
<use href="#dt" x="1031.3" y="579.3"/><use href="#dt" x="1031.3" y="660.7"/>
<path d="M1014.3 677.3V698.3" stroke="#0000e0" stroke-width="3"/><path d="M1021 692L1027 700.5L1019 698Z" fill="#0000e0"/>
<use href="#gd" x="1031" y="726.7"/>
<path class="z" d="M1087.3 628.3L1095.7 643.3"/><path class="b" stroke-dasharray="3.5 2.5" d="M1070.3 636H1091"/>
<circle cx="1079" cy="642.7" r="1.3" fill="#fff" stroke="#0000c8" stroke-width=".8"/><circle cx="1087.3" cy="628.5" r="1" fill="#0000c8"/><circle cx="1095.7" cy="643.3" r="1" fill="#0000c8"/>
<use href="#xx" x="1094.5" y="661"/>
<rect x="1095.7" y="678.3" width="14.3" height="23.4" fill="#ffffb0" stroke="#30c030" stroke-width="1.6"/>
<path class="w" d="M1095.7 682H1103.3V698H1095.7M1095.7 690H1103.3"/>
<text class="n c" x="1030.7" y="560.3">VCC</text><text class="n c" x="1031" y="740.3">GND</text><text class="n" x="1052.7" y="692">GND-OUT</text>
<text class="n c" transform="translate(1084.5 580) rotate(-90)">VCC_OUT</text><text class="n c" transform="translate(1002 636) rotate(-90)">PB0</text>
<text class="m c" transform="translate(1060 621) rotate(-90)">2</text><text class="m c" transform="translate(1060 652) rotate(-90)">1</text><text class="m c" transform="translate(1084 620) rotate(-90)">3</text><text class="m c" transform="translate(1076 652) rotate(-90)">5</text><text class="m c" transform="translate(1092 652) rotate(-90)">4</text>
<text class="m" x="1085" y="685">1</text><text class="m" x="1084" y="693">2</text>
<text class="d" x="1032" y="595">J_R1</text><text class="d" x="1034" y="603">1k</text><text class="d" x="1041.3" y="626">J_D1</text><text class="d" x="1047.3" y="635">LED</text><text class="d" x="999.7" y="667">J_R2</text><text class="d" x="999.7" y="675">1k</text><text class="d" x="1033.3" y="678.5">J_Q1</text><text class="d" x="1033.3" y="686.5">NPN</text><text class="d" x="1096.7" y="633">J_JK1</text><text class="d" x="1096.7" y="641">SRD-05</text><text class="d" x="1094" y="676">J_J1</text><text class="d" x="1094" y="709">KF128-2P</text>
<text class="t" x="1007.3" y="765" style="font-size:11px">继电器控制电路</text>

<!-- Watermark -->
<text transform="scale(.86 1)" y="78" style="font-family:'DejaVu Sans',sans-serif;font-size:66px;fill:#0cf8cc;stroke:#0cf8cc;stroke-width:1.4;stroke-linejoin:round"><tspan x="8.5" style="font-size:70px">M</tspan><tspan x="72.7">C</tspan><tspan x="115.2">U</tspan><tspan x="169.2" style="font-size:52px">c</tspan><tspan x="203.1">l</tspan><tspan x="220" style="font-size:54px">u</tspan><tspan x="255.6">b</tspan></text>
</svg>
</body></html>
